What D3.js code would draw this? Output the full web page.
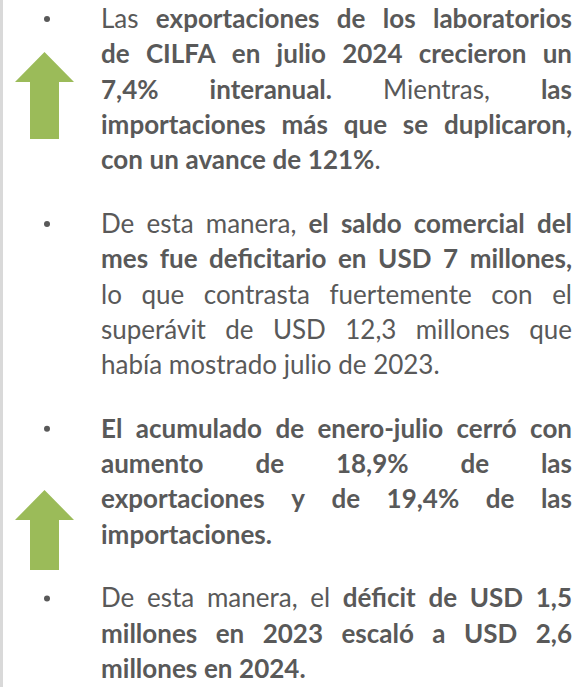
<!DOCTYPE html>
<html>
<head>
<meta charset="utf-8">
<script src="https://cdn.jsdelivr.net/npm/d3@7"></script>
<style>
  html, body { margin: 0; padding: 0; background: #fff; overflow: hidden; }
</style>
</head>
<body>
<div class="container"></div>
<script>
// each line is a list of [text, bold] runs
const para1 = [
  [["Las ", 0], ["exportaciones de los laboratorios", 1]],
  [["de CILFA en julio 2024 crecieron un", 1]],
  [["7,4% interanual.", 1], [" Mientras, ", 0], ["las", 1]],
  [["importaciones más que se duplicaron,", 1]],
  [["con un avance de 121%", 1], [".", 0]],
];
const para2 = [
  [["De esta manera, ", 0], ["el saldo comercial del", 1]],
  [["mes fue deficitario en USD 7 millones,", 1]],
  [["lo que contrasta fuertemente con el", 0]],
  [["superávit de USD 12,3 millones que", 0]],
  [["había mostrado julio de 2023.", 0]],
];
const para3 = [
  [["El acumulado de enero-julio cerró con", 1]],
  [["aumento de 18,9% de las", 1]],
  [["exportaciones y de 19,4% de las", 1]],
  [["importaciones.", 1]],
];
const para4 = [
  [["De esta manera, el ", 0], ["déficit de USD 1,5", 1]],
  [["millones en 2023 escaló a USD 2,6", 1]],
  [["millones en 2024.", 1]],
];
const paragraphs = [para1, para2, para3, para4];

// green arrows next to paragraphs 1 and 3 (tip / bottom)
const arrows = [
  { para: 0, tip: 52, bottom: 139 },
  { para: 2, tip: 490, bottom: 570 },
];

document.fonts.ready.then(() => {
  d3.select(".container").call(slide);
});

function slide(container) {
  //size
  const width = 578;
  const height = 687;
  const textLeft = 101;
  const textRight = 572;
  const lineHeight = 35.3;
  const paraGap = 28.4;
  const firstBaseline = 28;
  const bulletX = 47;

  const textColor = "#595959";
  const green = "#9bbb59";
  const font = "Lato, 'Open Sans', sans-serif";
  const fontSize = 26;

  const svg = container
    .append("svg")
    .attr("width", width)
    .attr("height", height);

  // grey rule on the left edge
  svg
    .append("rect")
    .attr("x", 0)
    .attr("y", 0)
    .attr("width", 3)
    .attr("height", height)
    .attr("fill", "#d9d9d9");

  const gText = svg
    .append("g")
    .attr("font-family", font)
    .attr("font-size", fontSize)
    .attr("fill", textColor);

  const tokenize = (runs) => {
    const tokens = [[]];
    runs.forEach(([t, b]) => {
      t.split(" ").forEach((p, i) => {
        if (i > 0) tokens.push([]);
        if (p) tokens[tokens.length - 1].push([p, b]);
      });
    });
    return tokens.filter((t) => t.length);
  };

  const fill = (t, tok) =>
    t
      .selectAll("tspan")
      .data(tok)
      .join("tspan")
      .attr("font-weight", (d) => (d[1] ? 700 : 400))
      .text((d) => d[0]);

  const measure = (tok) => {
    const t = gText.append("text");
    fill(t, tok);
    const w = t.node().getComputedTextLength();
    t.remove();
    return w;
  };

  const space = measure([["x x", 0]]) - measure([["xx", 0]]);

  // horizontal squeeze so the tightest line fits like the original
  const avail = textRight - textLeft;
  let maxW = 0;
  paragraphs.forEach((p) =>
    p.forEach((line) => {
      const toks = tokenize(line);
      const w = d3.sum(toks, measure) + (toks.length - 1) * space;
      maxW = Math.max(maxW, w);
    })
  );
  const sx = Math.min(1, (avail * 0.975) / maxW);

  // first baseline of each paragraph
  const paraTop = [];
  let y = firstBaseline;
  paragraphs.forEach((p) => {
    paraTop.push(y);
    y += p.length * lineHeight + paraGap;
  });

  svg
    .selectAll("circle.bullet")
    .data(paraTop)
    .join("circle")
    .attr("class", "bullet")
    .attr("cx", bulletX)
    .attr("cy", (d) => d - 9)
    .attr("r", 3)
    .attr("fill", textColor);

  paragraphs.forEach((p, pi) => {
    p.forEach((line, li) => {
      const toks = tokenize(line);
      const widths = toks.map((t) => measure(t) * sx);
      const last = li === p.length - 1;
      const gap =
        !last && toks.length > 1
          ? (avail - d3.sum(widths)) / (toks.length - 1)
          : space * sx;
      let x = textLeft;
      const by = paraTop[pi] + li * lineHeight;
      toks.forEach((tok, ti) => {
        const t = gText
          .append("text")
          .attr("transform", `translate(${x},${by}) scale(${sx},1)`);
        fill(t, tok);
        x += widths[ti] + gap;
      });
    });
  });

  // arrows
  const cx = 44.5;
  const headHalf = 29.5;
  const shaftHalf = 14.5;
  const headH = 30;
  svg
    .selectAll("path.arrow")
    .data(arrows)
    .join("path")
    .attr("class", "arrow")
    .attr("fill", green)
    .attr("d", (d) => {
      const p = d3.path();
      p.moveTo(cx, d.tip);
      p.lineTo(cx + headHalf, d.tip + headH);
      p.lineTo(cx + shaftHalf, d.tip + headH);
      p.lineTo(cx + shaftHalf, d.bottom);
      p.lineTo(cx - shaftHalf, d.bottom);
      p.lineTo(cx - shaftHalf, d.tip + headH);
      p.lineTo(cx - headHalf, d.tip + headH);
      p.closePath();
      return p.toString();
    });
}
</script>
</body>
</html>
